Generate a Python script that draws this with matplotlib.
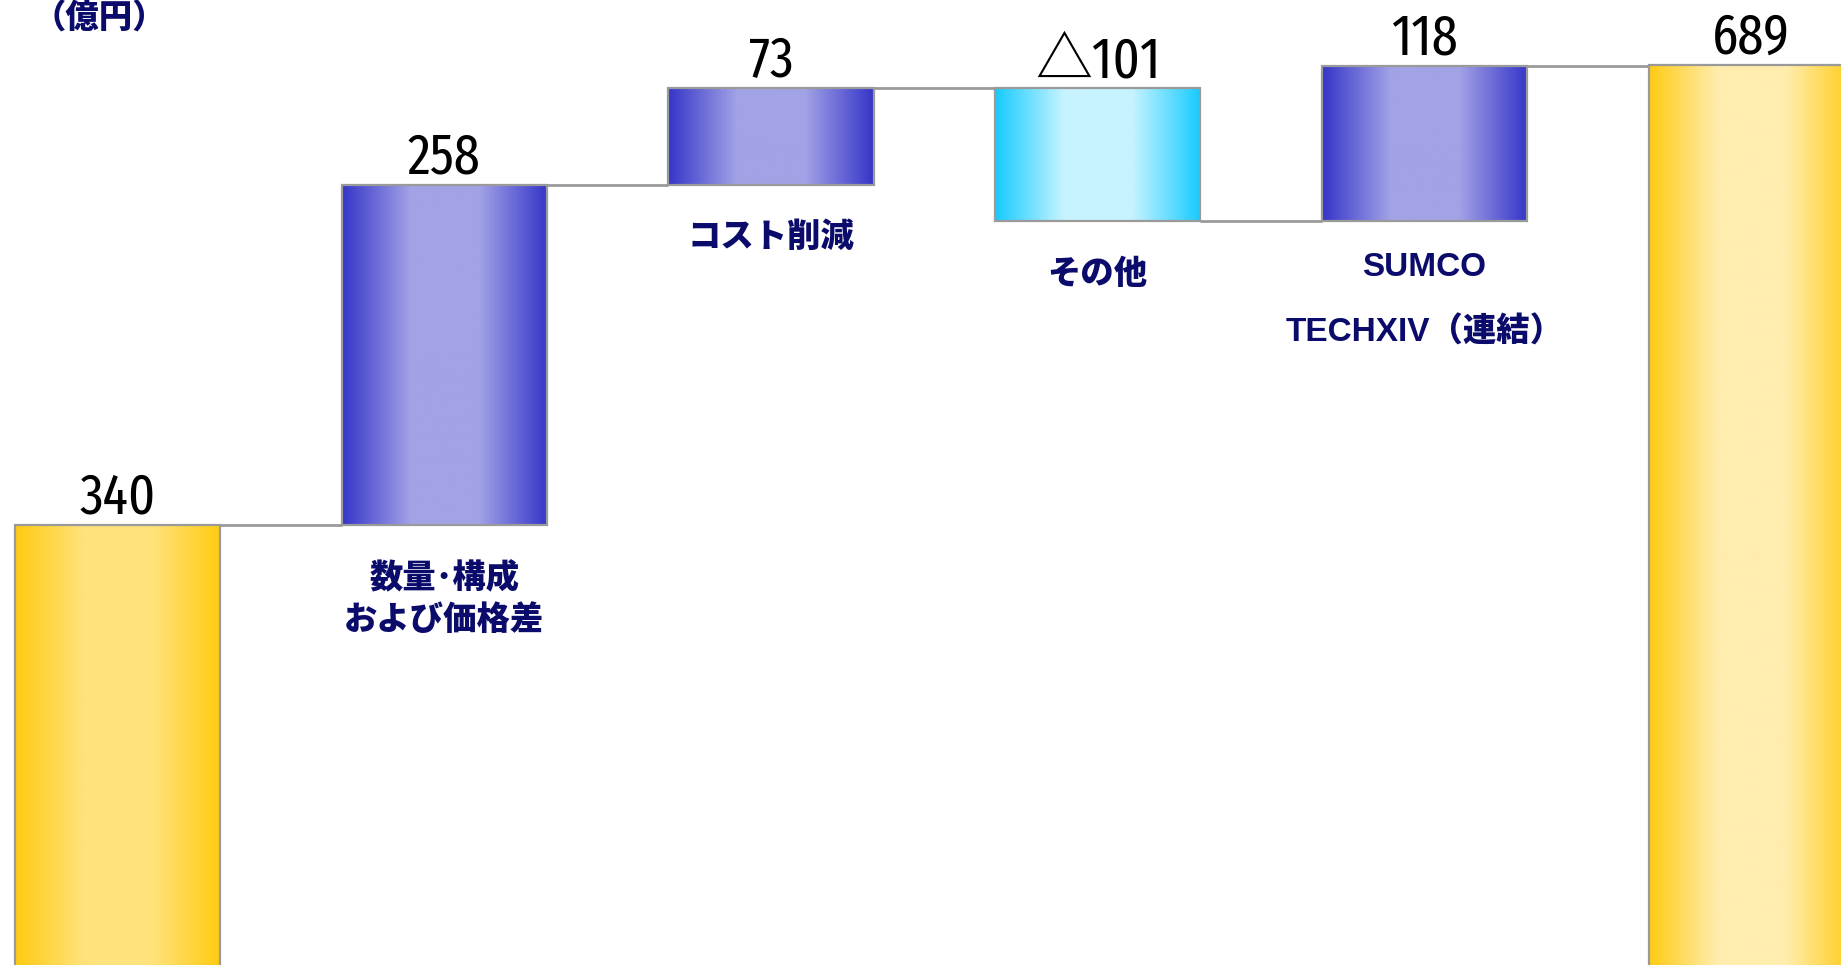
import numpy as np
import matplotlib
matplotlib.use('Agg')
from matplotlib import pyplot as plt
from matplotlib.colors import LinearSegmentedColormap
from matplotlib.patches import Rectangle

# waterfall data (億円)
categories = ['', '数量･構成\nおよび価格差', 'コスト削減', 'その他', 'SUMCO\nTECHXIV（連結）', '']
values = [340, 258, 73, -101, 118, 689]
value_labels = ['340', '258', '73', '△101', '118', '689']
kinds = ['total', 'up', 'up', 'down', 'up', 'total']

NAVY = '#0B0B6B'
EDGE = '#9a9a9a'
num_font = ['Fira Sans Extra Condensed', 'Archivo Narrow', 'Noto Sans CJK JP', 'DejaVu Sans']
lab_font = ['Liberation Sans', 'Noto Sans CJK JP', 'DejaVu Sans']

#gradient colormaps, edge -> centre -> edge
cmaps = {
    'total': LinearSegmentedColormap.from_list('y', ['#FFCB10', '#FFE27C', '#FFE27C', '#FFCB10']),
    'total_end': LinearSegmentedColormap.from_list('y2', ['#FFCB14', '#FFEDAE', '#FFEDAE', '#FFCB14']),
    'up': LinearSegmentedColormap.from_list('b', ['#3535C9', '#A2A2E6', '#A2A2E6', '#3535C9']),
    'down': LinearSegmentedColormap.from_list('c', ['#16CBFF', '#C6F3FF', '#C6F3FF', '#16CBFF']),
}

fig = plt.figure(figsize=(18.41, 9.65), dpi=100)
ax = fig.add_axes([0, 0, 1, 1])
ax.set_xlim(-0.36, 5.275)
ax.set_ylim(6, 738)
ax.axis('off')

width = 0.628
grad = np.linspace(0, 1, 256).reshape(1, -1)

running = 0
levels = []
for i, (v, k) in enumerate(zip(values, kinds)):
    if k == 'total':
        bottom, top = 0, v
        running = v
    else:
        start = running
        running = running + v
        bottom, top = min(start, running), max(start, running)
    levels.append(running)

    cm = cmaps[k]
    if k == 'total' and i == len(values) - 1:
        cm = cmaps['total_end']
    x0 = i - width / 2
    ax.imshow(grad, cmap=cm, aspect='auto', extent=(x0, x0 + width, bottom, top),
              interpolation='bilinear', zorder=2)
    ax.add_patch(Rectangle((x0, bottom), width, top - bottom, fill=False,
                           edgecolor=EDGE, lw=1.6, zorder=3))

    ax.annotate(value_labels[i], (i, top), xytext=(0, 11), textcoords='offset pixels',
                ha='center', va='baseline', fontsize=41, fontweight=400,
                family=num_font, color='black')

    if categories[i]:
        sumco = 'SUMCO' in categories[i]
        ls = 2.3 if sumco else 1.4
        off = -31 if sumco else -38
        ax.annotate(categories[i], (i, bottom), xytext=(0, off), textcoords='offset pixels',
                    ha='center', va='top', fontsize=24, fontweight='heavy', family=lab_font,
                    color=NAVY, linespacing=ls, multialignment='center')

# connector lines between bars
for i in range(len(values) - 1):
    ax.plot([i + width / 2, i + 1 - width / 2], [levels[i], levels[i]],
            color=EDGE, lw=2, zorder=1, solid_capstyle='butt')

fig.text(0.054, 0.981, '（億円）', ha='center', va='center', fontsize=24,
         fontweight='heavy', family=['Noto Sans CJK JP', 'DejaVu Sans'], color=NAVY)

fig.savefig('out.png', dpi=100)
